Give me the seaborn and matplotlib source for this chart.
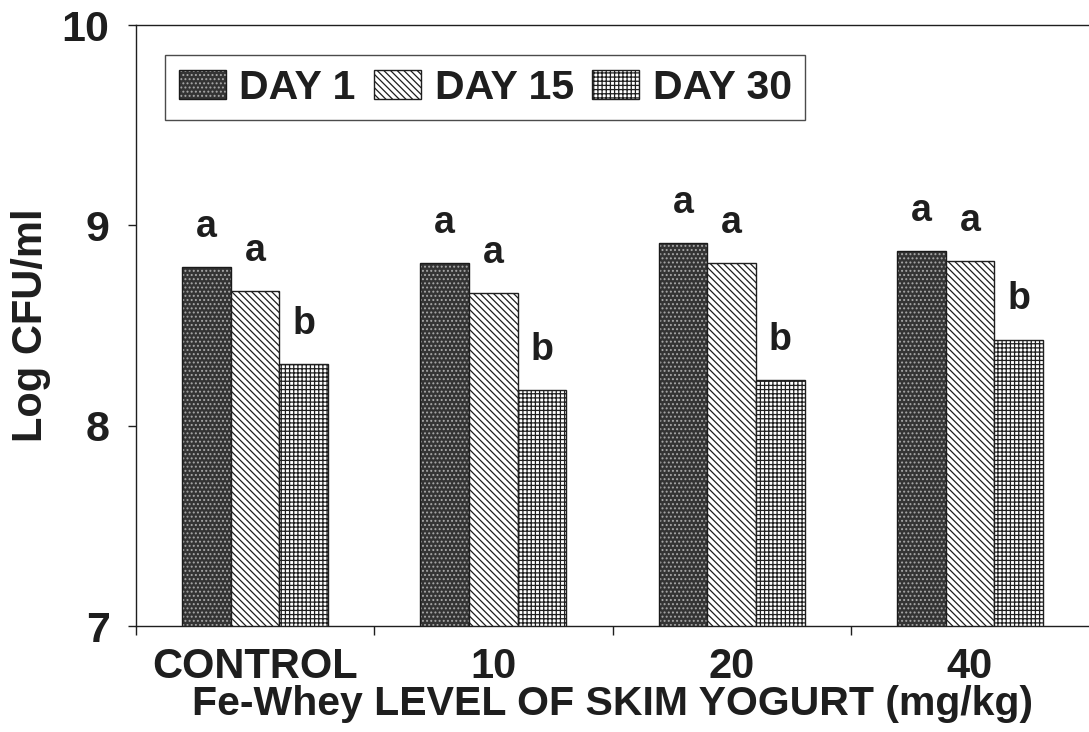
import numpy as np
import pandas as pd
import matplotlib
matplotlib.use("Agg")
import matplotlib.pyplot as plt
import matplotlib.colors as mcolors
from matplotlib.patches import Patch
import seaborn as sns

# ---- data ----
levels = ["CONTROL", "10", "20", "40"]
days = ["DAY 1", "DAY 15", "DAY 30"]
day1 = [8.79, 8.81, 8.91, 8.87]
day15 = [8.67, 8.66, 8.81, 8.82]
day30 = [8.31, 8.18, 8.23, 8.43]
letters_day1 = ["a", "a", "a", "a"]
letters_day15 = ["a", "a", "a", "a"]
letters_day30 = ["b", "b", "b", "b"]
yticks = [7, 8, 9, 10]

df = pd.DataFrame({
    "level": levels * 3,
    "day": [days[0]] * 4 + [days[1]] * 4 + [days[2]] * 4,
    "cfu": day1 + day15 + day30,
})
letters = [letters_day1, letters_day15, letters_day30]

sns.set_theme(style="ticks")
plt.rcParams["font.family"] = ["Liberation Sans", "DejaVu Sans"]
plt.rcParams["font.weight"] = "bold"
plt.rcParams["hatch.linewidth"] = 0.9
INK = "#1e1e1e"

fig = plt.figure(figsize=(10.89, 7.32), dpi=100)
ax = fig.add_axes([136 / 1089, 1 - 626 / 732, (1089 - 136) / 1089, (626 - 25) / 732])

sns.barplot(data=df, x="level", y="cfu", hue="day", order=levels, hue_order=days,
            width=0.612, gap=0, palette=["#3a3a3a", "white", "white"], saturation=1,
            legend=False, ax=ax, errorbar=None)

styles = [
    dict(face="#343434", edge="#1a1a1a", hatch="....", hcolor="#a8a8a8"),
    dict(face="white", edge=INK, hatch="\\\\\\\\\\", hcolor=INK),
    dict(face="white", edge=INK, hatch="++++", hcolor=INK),
]


def style_patch(p, st):
    p.set_facecolor(st["face"])
    p.set_edgecolor(st["edge"])
    p.set_hatch(st["hatch"])
    p.set_linewidth(1.0)
    if hasattr(p, "set_hatchcolor"):
        p.set_hatchcolor(st["hcolor"])
    else:
        p._hatch_color = mcolors.to_rgba(st["hcolor"])


for cont, st, labs in zip(ax.containers, styles, letters):
    for p, lab in zip(cont.patches, labs):
        style_patch(p, st)
        ax.text(p.get_x() + p.get_width() / 2, p.get_height() + 0.15, lab,
                ha="center", va="baseline", fontsize=27, fontweight="bold", color=INK)

ax.set_ylim(7, 10)
ax.set_xlim(-0.5, 3.5)
ax.set_yticks(yticks)
ax.set_yticklabels([str(v) for v in yticks])
ax.set_xticks(range(len(levels)))
ax.set_xticklabels(levels)
ax.set_xticks([-0.5, 0.5, 1.5, 2.5], minor=True)

ax.tick_params(axis="x", which="major", length=0, pad=15, labelsize=30, colors=INK)
ax.tick_params(axis="x", which="minor", length=6.5, width=1, direction="out", color=INK)
ax.tick_params(axis="y", which="major", length=6, width=1, pad=13, labelsize=31,
               direction="out", colors=INK)
for lab in ax.get_xticklabels() + ax.get_yticklabels():
    lab.set_fontweight("bold")

for side in ["left", "bottom", "top"]:
    ax.spines[side].set_visible(True)
    ax.spines[side].set_linewidth(1.0)
    ax.spines[side].set_color(INK)
ax.spines["right"].set_visible(False)

ax.set_xlabel("Fe-Whey LEVEL OF SKIM YOGURT (mg/kg)", fontsize=29.5, fontweight="bold",
              labelpad=-1, color=INK)
ax.set_ylabel("Log CFU/ml", fontsize=30, fontweight="bold", labelpad=8, color=INK)

handles = []
for st, d in zip(styles, days):
    h = Patch(label=d)
    style_patch(h, st)
    handles.append(h)

leg = ax.legend(handles=handles, loc="upper left", bbox_to_anchor=(29 / 953, 1 - 30 / 601),
                borderaxespad=0, ncol=3, frameon=True, fancybox=False, shadow=False,
                prop={"size": 29.5, "weight": "bold"}, handlelength=1.15, handleheight=0.72,
                handletextpad=0.33, columnspacing=0.45, borderpad=0.33)
leg.get_frame().set_edgecolor(INK)
leg.get_frame().set_linewidth(1.0)
for t in leg.get_texts():
    t.set_color(INK)

fig.savefig("out.png", dpi=100)
